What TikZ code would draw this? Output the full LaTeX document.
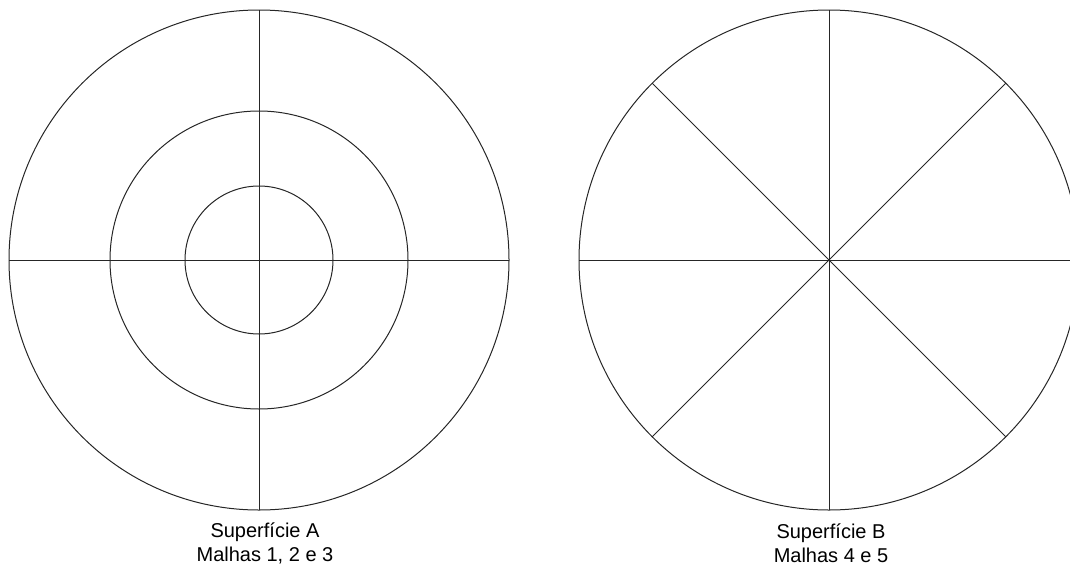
\documentclass[tikz,border=0pt]{standalone}
\usepackage{fontspec}
\setmainfont{Liberation Sans}
\usetikzlibrary{calc}
\begin{document}
\begin{tikzpicture}[x=1pt,y=-1pt,
  geo/.style={line width=1pt,draw=black!85},
  lbl/.style={font=\fontsize{20}{24}\selectfont,align=center,inner sep=0pt}]
\useasboundingbox (0,0) rectangle (1070,570);
\clip (0,0) rectangle (1070,570);
% Left: Superficie A
\coordinate (ca) at (259,260);
\draw[geo] (ca) circle[radius=250];
\draw[geo] (ca) circle[radius=149];
\draw[geo] (ca) circle[radius=74];
\draw[geo] ($(ca)+(-250,0)$) -- ($(ca)+(250,0)$);
\draw[geo] ($(ca)+(0,-250)$) -- ($(ca)+(0,250)$);
% Right: Superficie B
\coordinate (cb) at (829,260);
\draw[geo] (cb) circle[radius=250];
\foreach \a in {0,45,90,135} {
  \draw[geo] ($(cb)+(\a:250)$) -- ($(cb)+(\a+180:250)$);
}
\node[lbl] (ta) at (265,543) {Superfície A\\Malhas 1, 2 e 3};
\node[lbl] (tb) at (831,543) {Superfície B\\Malhas 4 e 5};
\end{tikzpicture}
\end{document}
